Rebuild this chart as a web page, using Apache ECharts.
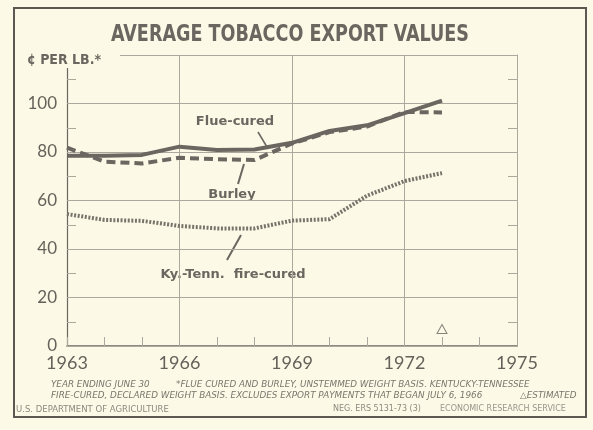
<!DOCTYPE html>
<html>
<head>
<meta charset="utf-8">
<script src="https://cdn.jsdelivr.net/npm/echarts@6/dist/echarts.min.js"></script>
<style>
  html, body { margin: 0; padding: 0; background: #fcf9e6; }
  #chart { width: 593px; height: 430px; }
</style>
</head>
<body>
<div id="chart"></div>
<script>
// data (cents per lb, year ending June 30)
var years = [1963, 1964, 1965, 1966, 1967, 1968, 1969, 1970, 1971, 1972, 1973];
var flueCured = [78.5, 78.5, 78.8, 82.2, 80.8, 81, 83.8, 88.7, 91, 96, 101.2];
var burley = [81.8, 76, 75.3, 77.6, 77, 76.7, 83.5, 88.2, 90.5, 96.5, 96.3];
var fireCured = [54.4, 52, 51.6, 49.5, 48.5, 48.5, 51.7, 52.3, 62, 68, 71.3];
var estimated = [[1973, 7]];
var yTicks = [0, 20, 40, 60, 80, 100];

var bg = '#fcf9e6';
var ink = '#6b6660';
var gridInk = '#aca89d';
var noteFont = 'italic 8.8px "DejaVu Sans", sans-serif';
var labelFont = 'bold 13px "DejaVu Sans", sans-serif';

function pairs(vals) {
    return years.map(function (y, i) { return [y, vals[i]]; });
}

var chart = echarts.init(document.getElementById('chart'));
var option = {
    backgroundColor: bg,
    animation: false,
    grid: { left: 67, right: 76, top: 55, bottom: 84 },
    xAxis: [
        {
            type: 'value',
            min: 1963,
            max: 1975,
            interval: 3,
            axisLine: { show: true, lineStyle: { color: ink, width: 1.5 } },
            axisTick: { show: true, inside: true, length: 9, lineStyle: { color: gridInk } },
            minorTick: { show: true, splitNumber: 3, length: 9, lineStyle: { color: gridInk } },
            splitLine: { show: true, lineStyle: { color: gridInk, width: 1 } },
            axisLabel: {
                color: '#66625b', fontFamily: 'Lato', fontSize: 18, margin: 8,
                formatter: function (v) { return String(v); }
            }
        },
        {
            type: 'value',
            position: 'top',
            min: 1963,
            max: 1975,
            interval: 3,
            axisLine: { show: true, lineStyle: { color: gridInk, width: 1 } },
            axisTick: { show: false },
            axisLabel: { show: false },
            splitLine: { show: false }
        }
    ],
    yAxis: [
        {
            type: 'value',
            min: 0,
            max: 120,
            interval: 20,
            axisLine: { show: true, lineStyle: { color: ink, width: 1.2 } },
            axisTick: { show: true, inside: true, length: 9, lineStyle: { color: gridInk } },
            minorTick: { show: true, splitNumber: 2, length: 9, lineStyle: { color: gridInk } },
            splitLine: { show: true, lineStyle: { color: gridInk, width: 1 } },
            axisLabel: {
                color: '#66625b', fontFamily: 'Lato', fontSize: 17, margin: 10,
                formatter: function (v) { return yTicks.indexOf(v) >= 0 ? String(v) : ''; }
            }
        },
        {
            type: 'value',
            position: 'right',
            min: 0,
            max: 120,
            interval: 20,
            axisLine: { show: true, lineStyle: { color: gridInk, width: 1 } },
            axisTick: { show: true, inside: true, length: 9, lineStyle: { color: gridInk } },
            minorTick: { show: true, splitNumber: 2, length: 9, lineStyle: { color: gridInk } },
            splitLine: { show: false },
            axisLabel: { show: false }
        }
    ],
    series: [
        {
            name: 'Ky.-Tenn. fire-cured',
            type: 'line',
            data: pairs(fireCured),
            showSymbol: false,
            lineStyle: { color: '#77726a', width: 4, type: [2, 1.6] }
        },
        {
            name: 'Burley',
            type: 'line',
            data: pairs(burley),
            showSymbol: false,
            lineStyle: { color: ink, width: 4, type: [9, 5] }
        },
        {
            name: 'Flue-cured',
            type: 'line',
            data: pairs(flueCured),
            showSymbol: false,
            lineStyle: { color: ink, width: 4 }
        },
        {
            name: 'Estimated',
            type: 'scatter',
            data: estimated,
            symbol: 'triangle',
            symbolSize: [10, 9],
            itemStyle: { color: 'rgba(0,0,0,0)', borderColor: ink, borderWidth: 1 }
        }
    ],
    graphic: [
        // outer frame
        { type: 'rect', shape: { x: 14, y: 8, width: 572, height: 409 },
          style: { fill: null, stroke: '#5c5852', lineWidth: 2 }, silent: true, z: -1 },
        { type: 'text', x: 290, y: 35, scaleX: 0.85,
          style: { text: 'AVERAGE TOBACCO EXPORT VALUES', fill: ink, align: 'center', verticalAlign: 'middle',
                   font: 'bold 23px "DejaVu Sans Condensed", "Liberation Sans Narrow", sans-serif' } },
        // clear the corner behind the unit label
        { type: 'rect', shape: { x: 20, y: 46, width: 100, height: 22 },
          style: { fill: bg }, silent: true, z: 100 },
        { type: 'text', x: 27, y: 53, z: 101,
          style: { text: '¢ PER LB.*', fill: ink,
                   font: 'bold 14px "DejaVu Sans Condensed", sans-serif' } },
        // series labels and pointers
        { type: 'text', x: 235, y: 122,
          style: { text: 'Flue-cured', fill: ink, align: 'center', verticalAlign: 'middle', font: labelFont } },
        { type: 'line', shape: { x1: 258, y1: 132, x2: 267, y2: 147 }, style: { stroke: ink, lineWidth: 1.5 } },
        { type: 'text', x: 232, y: 195,
          style: { text: 'Burley', fill: ink, align: 'center', verticalAlign: 'middle', font: labelFont } },
        { type: 'line', shape: { x1: 238, y1: 184, x2: 244, y2: 164 }, style: { stroke: ink, lineWidth: 2 } },
        { type: 'text', x: 233, y: 275,
          style: { text: 'Ky.-Tenn.  fire-cured', fill: ink, align: 'center', verticalAlign: 'middle', font: labelFont } },
        { type: 'line', shape: { x1: 227, y1: 260, x2: 241, y2: 235 }, style: { stroke: ink, lineWidth: 2 } },
        // footnotes
        { type: 'text', x: 51, y: 380,
          style: { text: 'YEAR ENDING JUNE 30', fill: '#7a756d', font: noteFont } },
        { type: 'text', x: 176, y: 380,
          style: { text: '*FLUE CURED AND BURLEY, UNSTEMMED WEIGHT BASIS. KENTUCKY-TENNESSEE', fill: '#7a756d', font: noteFont } },
        { type: 'text', x: 51, y: 391,
          style: { text: 'FIRE-CURED, DECLARED WEIGHT BASIS. EXCLUDES EXPORT PAYMENTS THAT BEGAN JULY 6, 1966', fill: '#7a756d', font: noteFont } },
        { type: 'text', x: 520, y: 391,
          style: { text: '△ESTIMATED', fill: '#7a756d', font: noteFont } },
        { type: 'text', x: 16, y: 405,
          style: { text: 'U.S. DEPARTMENT OF AGRICULTURE', fill: '#8e897f', font: '8.5px "DejaVu Sans", sans-serif' } },
        { type: 'text', x: 333, y: 405,
          style: { text: 'NEG. ERS 5131-73 (3)', fill: '#8e897f', font: '8px "DejaVu Sans", sans-serif' } },
        { type: 'text', x: 440, y: 405,
          style: { text: 'ECONOMIC RESEARCH SERVICE', fill: '#9a958b', font: '8px "DejaVu Sans", sans-serif' } }
    ]
};
chart.setOption(option);
</script>
</body>
</html>
